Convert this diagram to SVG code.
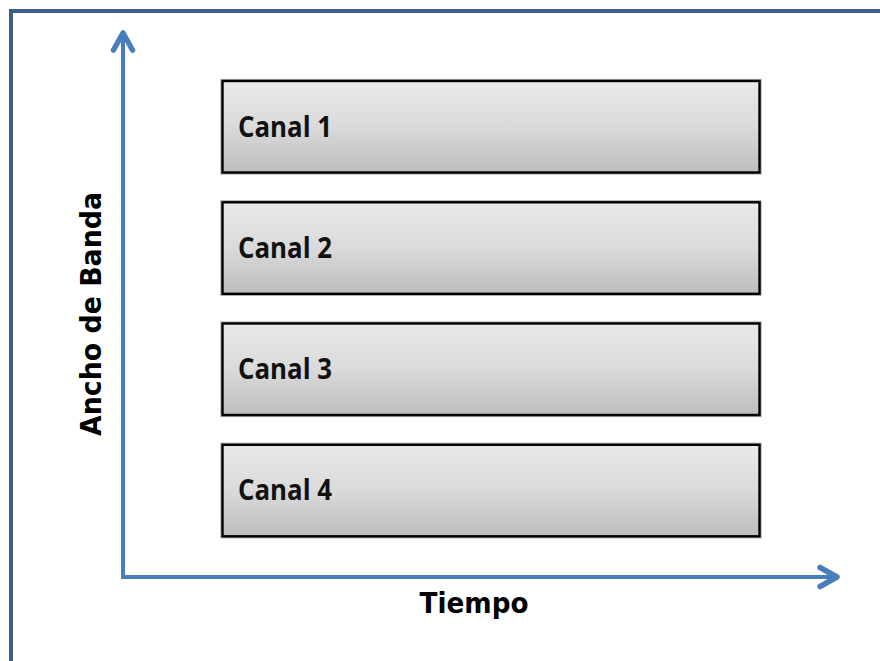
<svg xmlns="http://www.w3.org/2000/svg" width="880" height="661" viewBox="0 0 880 661">
  <defs>
    <linearGradient id="boxFill" x1="0" y1="0" x2="0" y2="1">
      <stop offset="0" stop-color="#e9e9e9"/>
      <stop offset="0.5" stop-color="#dadada"/>
      <stop offset="1" stop-color="#bdbdbd"/>
    </linearGradient>
    <marker id="openArrow" markerUnits="userSpaceOnUse" markerWidth="40" markerHeight="40" refX="0" refY="0" orient="auto-start-reverse" overflow="visible">
      <path d="M-17,-9.5 L0,0 L-17,9.5" fill="none" stroke="#4a7ebb" stroke-width="5.5" stroke-linecap="round" stroke-linejoin="round"/>
    </marker>
    <style>
      .frame { fill: none; stroke: #3a5f8b; stroke-width: 4; stroke-linejoin: miter; }
      .axis { fill: none; stroke: #4a7ebb; stroke-width: 4; stroke-linejoin: miter; }
      .box { fill: url(#boxFill); stroke: #000; stroke-width: 2.4; }
      .halo { fill: none; stroke: #a8a8a8; stroke-width: 4.2; }
      .label { font-family: "Open Sans", "Liberation Sans", sans-serif; font-weight: 700; font-size: 28px; fill: #111; }
      .title { font-family: "DejaVu Sans", "Liberation Sans", sans-serif; font-weight: bold; font-size: 29px; fill: #000; }
    </style>
  </defs>

  <rect width="880" height="661" fill="#fff"/>

  <!-- outer frame: top and left edges -->
  <path class="frame" d="M11,661 V11 H880"/>

  <!-- axes -->
  <g id="connectors">
    <path class="axis" d="M123,33 V577 H837" marker-start="url(#openArrow)" marker-end="url(#openArrow)"/>
  </g>

  <!-- channel bands -->
  <g id="canal1">
    <rect class="halo" x="222.5" y="81" width="537" height="91.5"/>
    <rect class="box" x="222.5" y="81" width="537" height="91.5"/>
    <text class="label" x="238" y="136.5" textLength="94" lengthAdjust="spacingAndGlyphs">Canal 1</text>
  </g>
  <g id="canal2">
    <rect class="halo" x="222.5" y="202.3" width="537" height="91.5"/>
    <rect class="box" x="222.5" y="202.3" width="537" height="91.5"/>
    <text class="label" x="238" y="257.8" textLength="94" lengthAdjust="spacingAndGlyphs">Canal 2</text>
  </g>
  <g id="canal3">
    <rect class="halo" x="222.5" y="323.5" width="537" height="91.5"/>
    <rect class="box" x="222.5" y="323.5" width="537" height="91.5"/>
    <text class="label" x="238" y="379" textLength="94" lengthAdjust="spacingAndGlyphs">Canal 3</text>
  </g>
  <g id="canal4">
    <rect class="halo" x="222.5" y="444.8" width="537" height="91.5"/>
    <rect class="box" x="222.5" y="444.8" width="537" height="91.5"/>
    <text class="label" x="238" y="500.3" textLength="94" lengthAdjust="spacingAndGlyphs">Canal 4</text>
  </g>

  <!-- axis titles -->
  <g id="eje-y">
    <text class="title" transform="translate(101,314) rotate(-90)" x="0" y="0" text-anchor="middle" textLength="244" lengthAdjust="spacingAndGlyphs">Ancho de Banda</text>
  </g>
  <g id="eje-x">
    <text class="title" x="474" y="613" text-anchor="middle" textLength="109" lengthAdjust="spacingAndGlyphs">Tiempo</text>
  </g>
</svg>
